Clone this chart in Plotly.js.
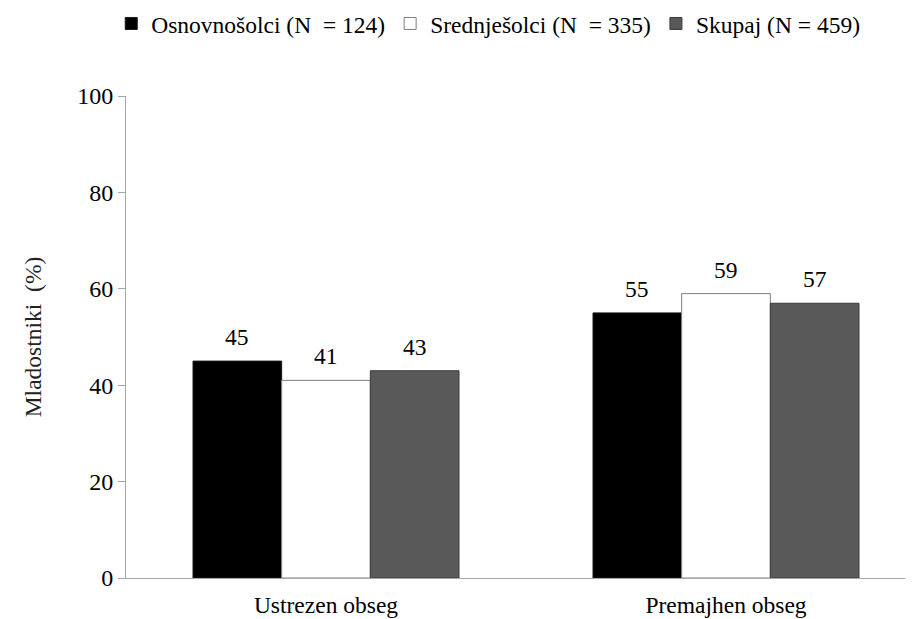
<!DOCTYPE html>
<html>
<head>
<meta charset="utf-8">
<script src="https://cdn.plot.ly/plotly-3.0.1.min.js"></script>
<style>html,body{margin:0;padding:0;background:#fff;}#chart{width:917px;height:619px;}</style>
</head>
<body>
<div id="chart"></div>
<script>
const categories = ["Ustrezen obseg", "Premajhen obseg"];
const seriesNames = ["Osnovnošolci (N  = 124)", "Srednješolci (N  = 335)", "Skupaj (N = 459)"];
const osnovnosolci = [45, 55];
const srednjesolci = [41, 59];
const skupaj = [43, 57];
const yTicks = [0, 20, 40, 60, 80, 100];

const FONT = "Liberation Serif";
const FS = 23.5;
const BARGAP = 0.335;
const fills = ["#000000", "#ffffff", "#595959"];
const outlines = ["#1a1a1a", "#7f7f7f", "#3a3a3a"];
const values = [osnovnosolci, srednjesolci, skupaj];
const catIdx = categories.map((c, i) => i);

const traces = values.map((v, j) => ({
  type: "bar",
  name: seriesNames[j],
  x: catIdx,
  y: v,
  marker: {color: fills[j], line: {color: outlines[j], width: 1}},
  hoverinfo: "skip"
}));

// value labels, positioned through the axis scale at each bar's slot
const nSeries = values.length;
const slot = (1 - BARGAP) / nSeries;
const annotations = [];
values.forEach((v, j) => {
  v.forEach((val, i) => {
    annotations.push({
      xref: "x", yref: "y",
      x: catIdx[i] + (j - (nSeries - 1) / 2) * slot,
      y: val,
      text: String(val),
      showarrow: false,
      yanchor: "bottom",
      yshift: 9,
      font: {family: FONT, size: FS, color: "#000"}
    });
  });
});

const layout = {
  width: 917, height: 619,
  margin: {l: 126, r: 12, t: 96, b: 41, autoexpand: false},
  paper_bgcolor: "#fff", plot_bgcolor: "#fff",
  font: {family: FONT, size: FS, color: "#000"},
  barmode: "group",
  bargap: BARGAP,
  bargroupgap: 0,
  showlegend: true,
  legend: {
    orientation: "h",
    x: 0.465, xanchor: "center",
    y: 1.15, yanchor: "middle",
    font: {family: FONT, size: FS, color: "#000"},
    traceorder: "normal",
    itemclick: false
  },
  annotations: annotations,
  xaxis: {
    type: "linear",
    range: [-0.5, 1.4475],
    tickvals: catIdx,
    ticktext: categories,
    showline: true, linecolor: "#a6a6a6", linewidth: 1,
    ticks: "", showgrid: false, zeroline: false,
    ticklabelstandoff: 6,
    tickfont: {family: FONT, size: FS, color: "#000"}
  },
  yaxis: {
    range: [0, 100],
    tickvals: yTicks,
    showline: true, linecolor: "#a6a6a6", linewidth: 1,
    ticks: "outside", ticklen: 7, tickcolor: "#a6a6a6",
    showgrid: false, zeroline: false,
    tickfont: {family: FONT, size: 24, color: "#000"},
    title: {text: "Mladostniki  (%)", font: {family: FONT, size: FS, color: "#222"}, standoff: 28}
  }
};

Plotly.newPlot("chart", traces, layout, {displayModeBar: false, staticPlot: true});
</script>
</body>
</html>
